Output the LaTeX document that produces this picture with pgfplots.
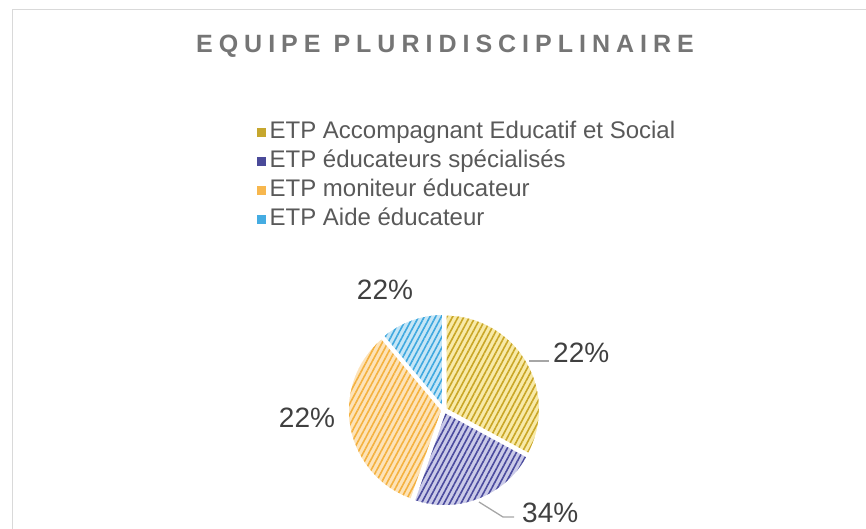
\documentclass[border=0pt]{standalone}
\usepackage{pgfplots}
\pgfplotsset{compat=1.18}
\usepackage{pgfplotstable}
\usepackage{fontspec}
\setmainfont{Liberation Sans}
\usetikzlibrary{patterns.meta}
\definecolor{yelF}{HTML}{F8EAA8}\definecolor{yelS}{HTML}{C9A626}\definecolor{yelL}{HTML}{C6A72E}
\definecolor{bluF}{HTML}{CACAE8}\definecolor{bluS}{HTML}{4B4B9E}\definecolor{bluL}{HTML}{4A4A99}
\definecolor{oraF}{HTML}{FDE3B8}\definecolor{oraS}{HTML}{F4B13F}\definecolor{oraL}{HTML}{F7B74E}
\definecolor{skyF}{HTML}{C6E6F6}\definecolor{skyS}{HTML}{3FA8DF}\definecolor{skyL}{HTML}{45ACE2}
\definecolor{titleC}{HTML}{757575}
\definecolor{legC}{HTML}{595959}
\definecolor{labC}{HTML}{404040}
\definecolor{frameC}{HTML}{D9D9D9}
\definecolor{leadC}{HTML}{A6A6A6}

\pgfplotstableread{
idx value fc sc
0 32.9 yelF yelS
1 22.4 bluF bluS
2 33.6 oraF oraS
3 11.1 skyF skyS
}\piedata

\begin{document}
\begin{tikzpicture}
\begin{axis}[name=ax,
  width=866pt, height=529pt, scale only axis,
  xmin=0, xmax=866, ymin=0, ymax=529, y dir=reverse,
  hide axis, clip=false,
  legend style={at={(axis cs:254,119)}, anchor=north west, draw=none, fill=none,
    font=\fontsize{24}{27}\selectfont, text=legC,
    nodes={inner sep=0pt, text height=17pt, text depth=5pt},
    row sep=7pt, column sep=4pt},
  legend cell align=left,
  legend image code/.code={\fill[#1] (0pt,-4pt) rectangle (8pt,4pt);},
]
% frame of the chart area
\draw[frameC, line width=1.2pt] (axis cs:12.5,529) -- (axis cs:12.5,9.5) -- (axis cs:866,9.5);
% title
\node[text=titleC, font=\fontsize{25}{28}\selectfont\bfseries\addfontfeature{LetterSpace=24}] at (axis cs:445,46) {EQUIPE PLURIDISCIPLINAIRE};
% pie slices from table values
\pgfplotsextra{
  \gdef\startang{90}
  \foreach \i in {0,...,3}{
    \pgfplotstablegetelem{\i}{value}\of\piedata \let\v\pgfplotsretval
    \pgfplotstablegetelem{\i}{fc}\of\piedata \let\fc\pgfplotsretval
    \pgfplotstablegetelem{\i}{sc}\of\piedata \let\sc\pgfplotsretval
    \pgfmathsetmacro\endang{\startang-\v*3.6}
    \pgfmathsetmacro\midang{(\startang+\endang)/2}
    \begin{scope}[shift={(\midang:1.5pt)}]
      \fill[\fc] (axis cs:444,410) -- ++(\startang:95pt) arc[start angle=\startang, end angle=\endang, radius=95pt] -- cycle;
      \fill[pattern={Lines[angle=62,distance=5pt,line width=1.6pt]}, pattern color=\sc] (axis cs:444,410) -- ++(\startang:95pt) arc[start angle=\startang, end angle=\endang, radius=95pt] -- cycle;
      \draw[white, line width=2.5pt, line join=round] (axis cs:444,410) -- ++(\startang:95pt) arc[start angle=\startang, end angle=\endang, radius=95pt] -- cycle;
    \end{scope}
    \xdef\startang{\endang}
  }
}
% legend entries
\addlegendimage{yelL}\addlegendentry{ETP Accompagnant Educatif et Social}
\addlegendimage{bluL}\addlegendentry{ETP éducateurs spécialisés}
\addlegendimage{oraL}\addlegendentry{ETP moniteur éducateur}
\addlegendimage{skyL}\addlegendentry{ETP Aide éducateur}
% leader lines
\draw[leadC, line width=1.3pt] (axis cs:529,361) -- (axis cs:549,361);
\draw[leadC, line width=1.3pt] (axis cs:479,502) -- (axis cs:503,517) -- (axis cs:514,517);
% data labels
\begin{scope}[every node/.style={text=labC, font=\fontsize{28}{32}\selectfont, inner sep=0pt}]
\node at (axis cs:385,290) {22\%};
\node[anchor=west] at (axis cs:553,353) {22\%};
\node at (axis cs:307,418) {22\%};
\node[anchor=west] at (axis cs:522,513) {34\%};
\end{scope}
\end{axis}
\pgfresetboundingbox
\path[use as bounding box] (ax.south west) rectangle (ax.north east);
\end{tikzpicture}
\end{document}
